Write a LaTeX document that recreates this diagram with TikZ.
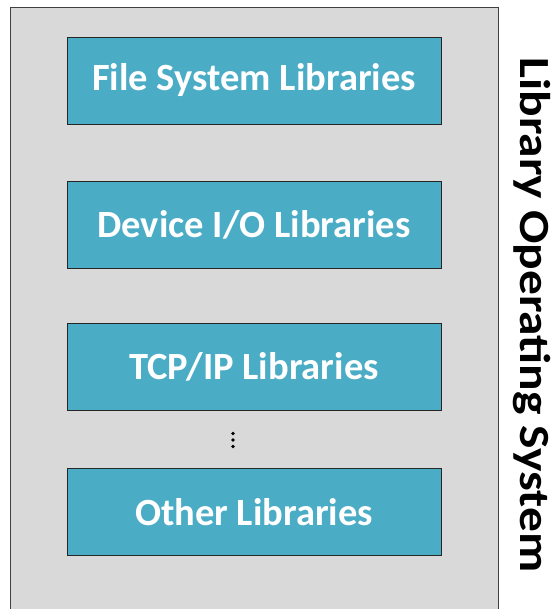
\documentclass[tikz,border=0pt]{standalone}
\usepackage{fontspec}
\setmainfont{Carlito}
\definecolor{boxblue}{HTML}{4BACC6}
\definecolor{panelgray}{HTML}{D9D9D9}
\definecolor{edgegray}{HTML}{404040}
\begin{document}
\begin{tikzpicture}[x=1pt,y=-1pt,
  libbox/.style={draw=black!85,line width=0.9pt,fill=boxblue,minimum width=374pt,minimum height=87pt,inner sep=0pt,text=white,font=\bfseries\fontsize{38.5}{44}\selectfont},
  panel/.style={draw=edgegray,line width=1pt,fill=panelgray},
  dot/.style={circle,fill=black,inner sep=0pt,minimum size=3.6pt}]
\useasboundingbox (0,0) rectangle (553,609);
\path[panel] (10,8) rectangle (498,615);
\node[libbox] (fs) at (254,80.5) {File System Libraries};
\node[libbox] (dev) at (254,224.5) {Device I/O Libraries};
\node[libbox] (tcp) at (254,366.5) {TCP/IP Libraries};
\node[libbox] (oth) at (254,512) {Other Libraries};
\node[dot] (d1) at (233,433.5) {};
\node[dot] (d2) at (233,440) {};
\node[dot] (d3) at (233,446.5) {};
\node[rotate=-90,anchor=base,inner sep=0pt,font=\bfseries\fontsize{43}{48}\selectfont] (los) at (520,315) {\scalebox{1.15}[1]{Library Operating System}};
\end{tikzpicture}
\end{document}
